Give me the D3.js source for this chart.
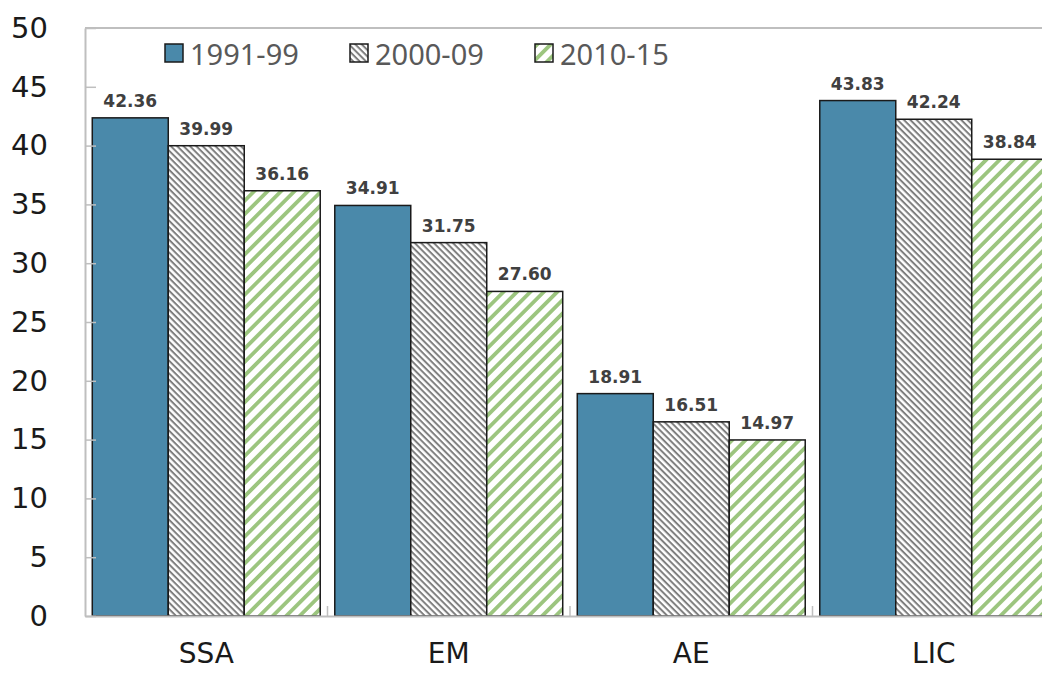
<!DOCTYPE html>
<html>
<head>
<meta charset="utf-8">
<script src="https://cdn.jsdelivr.net/npm/d3@7"></script>
<style>
  body { margin: 0; background: #fff; }
  svg { display: block; font-family: "DejaVu Sans", Verdana, sans-serif; }
</style>
</head>
<body>
<div class="chart"></div>
<script>
const regions = ['SSA', 'EM', 'AE', 'LIC']
const periods = ['1991-99', '2000-09', '2010-15']
const v1991 = [42.36, 34.91, 18.91, 43.83]
const v2000 = [39.99, 31.75, 16.51, 42.24]
const v2010 = [36.16, 27.60, 14.97, 38.84]
const yTicks = [0, 5, 10, 15, 20, 25, 30, 35, 40, 45, 50]

const series = [v1991, v2000, v2010]
const data = regions.map((r, i) => ({region: r, values: series.map((s, j) => ({period: periods[j], value: s[i]}))}))

const W = 1042, H = 673
const margin = ({top: 28, right: -13, bottom: 57, left: 85})
const width = W - margin.left - margin.right
const height = H - margin.top - margin.bottom

const svg = d3.select('.chart').append('svg')
    .attr('width', W)
    .attr('height', H)

// hatch patterns: gray "\\\" dense, green "///" wide
const defs = svg.append('defs')
const pGray = defs.append('pattern')
    .attr('id', 'hatch-gray')
    .attr('patternUnits', 'userSpaceOnUse')
    .attr('width', 4.5).attr('height', 4.5)
    .attr('patternTransform', 'rotate(45)')
pGray.append('rect').attr('width', 4.5).attr('height', 4.5).attr('fill', '#fff')
pGray.append('rect').attr('width', 4.5).attr('height', 2).attr('fill', '#7f7f7f')

const pGreen = defs.append('pattern')
    .attr('id', 'hatch-green')
    .attr('patternUnits', 'userSpaceOnUse')
    .attr('width', 9.5).attr('height', 9.5)
    .attr('patternTransform', 'rotate(-45)')
pGreen.append('rect').attr('width', 9.5).attr('height', 9.5).attr('fill', '#fff')
pGreen.append('rect').attr('width', 9.5).attr('height', 3.8).attr('fill', '#9cc57f')

const fills = ['#4a89aa', 'url(#hatch-gray)', 'url(#hatch-green)']

const g = svg.append('g')
    .attr('transform', `translate(${margin.left},${margin.top})`)

const x0 = d3.scaleBand()
    .domain(regions)
    .range([0, width])
    .paddingInner(0.06)
    .paddingOuter(0.03)

const x1 = d3.scaleBand()
    .domain(periods)
    .range([0, x0.bandwidth()])

const y = d3.scaleLinear()
    .domain([0, 50])
    .range([height, 0])

const color = d3.scaleOrdinal().domain(periods).range(fills)

// top frame line
g.append('line')
    .attr('x1', 0).attr('x2', width).attr('y1', 0).attr('y2', 0)
    .attr('stroke', '#bfbfbf').attr('stroke-width', 2)

// bars
const groups = g.selectAll('.grp')
    .data(data)
    .join('g')
    .attr('class', 'grp')
    .attr('transform', d => `translate(${x0(d.region)},0)`)

groups.selectAll('rect')
    .data(d => d.values)
    .join('rect')
    .attr('x', d => x1(d.period))
    .attr('y', d => y(d.value))
    .attr('width', x1.bandwidth())
    .attr('height', d => height - y(d.value))
    .attr('fill', d => color(d.period))
    .attr('stroke', '#1a1a1a')
    .attr('stroke-width', 1.5)

groups.selectAll('text')
    .data(d => d.values)
    .join('text')
    .attr('x', d => x1(d.period) + x1.bandwidth() / 2)
    .attr('y', d => y(d.value) - 11)
    .attr('text-anchor', 'middle')
    .attr('font-size', 17)
    .attr('font-weight', 'bold')
    .attr('fill', '#404040')
    .text(d => d.value.toFixed(2))

// y axis
const yAxis = d3.axisLeft(y).tickValues(yTicks).tickSize(0).tickPadding(37)
const ya = g.append('g').call(yAxis)
ya.select('.domain').attr('stroke', '#bfbfbf').attr('stroke-width', 2)
ya.selectAll('text').attr('font-size', 29).attr('fill', '#1a1a1a')
    .attr('font-family', '"DejaVu Sans", Verdana, sans-serif')
ya.selectAll('.tick').append('line')
    .attr('x1', 0).attr('x2', 11)
    .attr('stroke', '#bfbfbf').attr('stroke-width', 1.5)

// x axis
const xa = g.append('g')
    .attr('transform', `translate(0,${height})`)
    .call(d3.axisBottom(x0).tickSize(0).tickPadding(27))
xa.select('.domain').attr('stroke', '#bfbfbf').attr('stroke-width', 2)
xa.selectAll('text').attr('font-size', 28).attr('fill', '#1a1a1a')
    .attr('font-family', '"DejaVu Sans", Verdana, sans-serif')
const step = x0.step()
xa.selectAll('.sep')
    .data(regions.slice(1))
    .join('line')
    .attr('class', 'sep')
    .attr('x1', d => x0(d) - step * x0.paddingInner() / 2)
    .attr('x2', d => x0(d) - step * x0.paddingInner() / 2)
    .attr('y1', 0).attr('y2', -10)
    .attr('stroke', '#bfbfbf').attr('stroke-width', 1.5)

// legend
const legendX = [165, 350, 535]
const legend = svg.append('g')
    .selectAll('g')
    .data(periods)
    .join('g')
    .attr('transform', (d, i) => `translate(${legendX[i]},44)`)
legend.append('rect')
    .attr('width', 18).attr('height', 18)
    .attr('fill', d => color(d))
    .attr('stroke', '#1a1a1a').attr('stroke-width', 1.5)
legend.append('text')
    .attr('x', 25).attr('y', 21)
    .attr('font-size', 29)
    .attr('font-family', '"Noto Sans", sans-serif')
    .attr('fill', '#595959')
    .text(d => d)
</script>
</body>
</html>
